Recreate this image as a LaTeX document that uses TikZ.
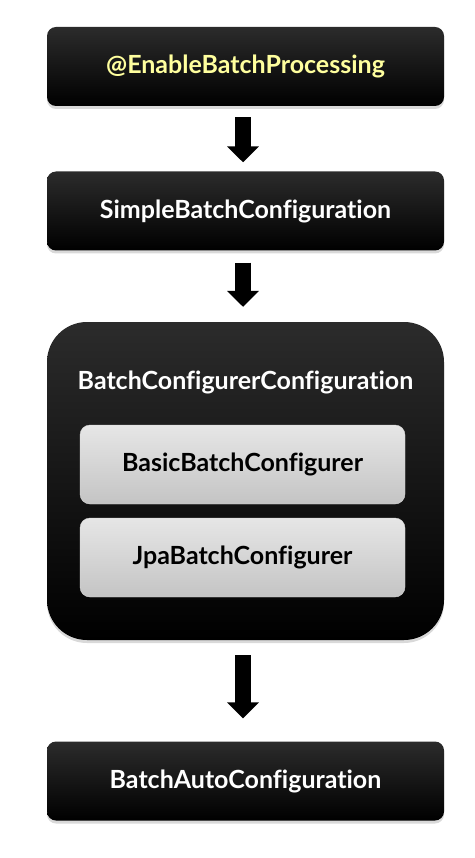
\documentclass[tikz,border=0pt]{standalone}
\usepackage{fontspec}
\setmainfont{Lato}[Ligatures=NoCommon]
\usetikzlibrary{arrows.meta,shadows}

\definecolor{jaunepale}{HTML}{FFFF9E}
\definecolor{grisclair}{HTML}{E6E6E6}
\definecolor{grisfonce}{HTML}{C4C4C4}

\begin{document}
\begin{tikzpicture}[x=1pt,y=-1pt,%
  boite/.style={rounded corners=9pt, minimum width=397pt, minimum height=79pt,%
                top color=black!83, middle color=black, bottom color=black,%
                text=white, font=\bfseries\fontsize{25}{29}\selectfont,%
                drop shadow={opacity=0.3, shadow xshift=0pt, shadow yshift=-3pt}},%
  interne/.style={rounded corners=10pt, minimum width=325pt, minimum height=79pt,%
                  top color=grisclair, bottom color=grisfonce, draw=white!85!black,%
                  text=black, font=\bfseries\fontsize{25}{29}\selectfont},%
  fleche/.style={line width=16pt, -{Triangle[width=31pt,length=16pt]}}]

\useasboundingbox (0,0) rectangle (474,858);

% les boites
\node[boite, text=jaunepale] (enable) at (245.5,66.5) {@EnableBatchProcessing};
\node[boite] (simple) at (245.5,211) {SimpleBatchConfiguration};
\node[boite, minimum height=318pt, rounded corners=40pt] (conf) at (245.5,481) {};
\node[text=white, font=\bfseries\fontsize{25}{29}\selectfont] (titre)%
  at (245.5,382) {BatchConfigurerConfiguration};
\node[interne] (basic) at (242.5,464.5) {BasicBatchConfigurer};
\node[interne] (jpa) at (242.5,557.5) {JpaBatchConfigurer};
\node[boite] (auto) at (245.5,781) {BatchAutoConfiguration};

% les fleches
\draw[fleche, shorten <=11pt, shorten >=9pt]%
  ([xshift=-2.5pt]enable.south) -- ([xshift=-2.5pt]simple.north);
\draw[fleche, shorten <=12pt, shorten >=15pt]%
  ([xshift=-2.5pt]simple.south) -- ([xshift=-2.5pt]conf.north);
\draw[fleche, shorten <=15pt, shorten >=23pt]%
  ([xshift=-2.5pt]conf.south) -- ([xshift=-2.5pt]auto.north);

\end{tikzpicture}
\end{document}
